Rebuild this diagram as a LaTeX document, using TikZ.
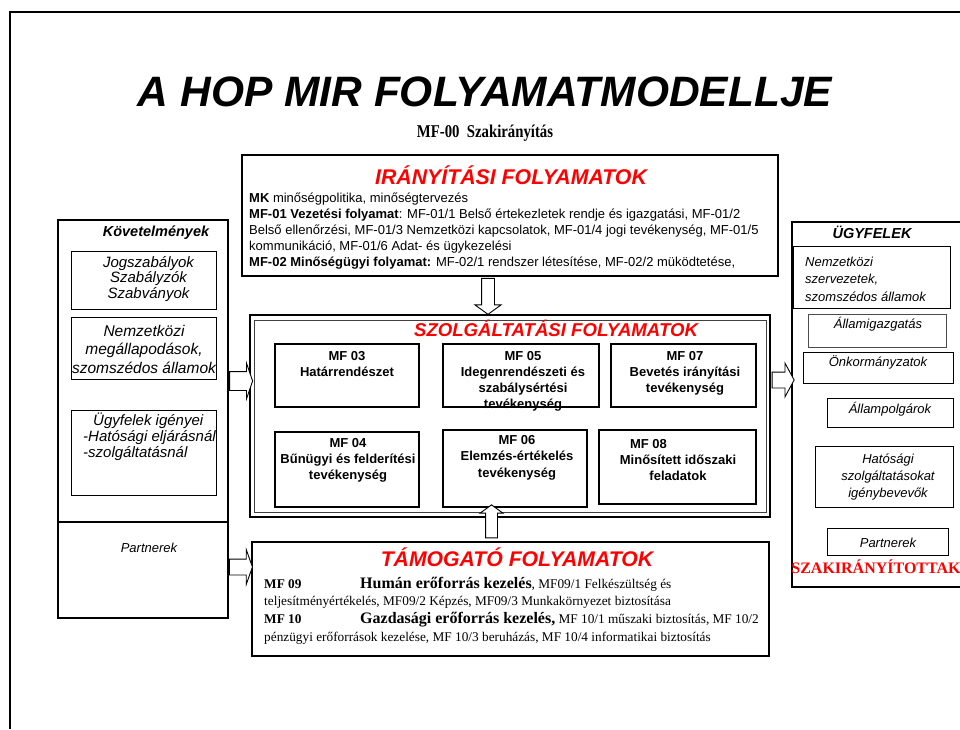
\documentclass[tikz,border=0pt]{standalone}
\usepackage{graphicx}
\usepackage{fontspec}
\setmainfont{Liberation Sans}
\newfontfamily\tnr{Liberation Serif}
\usetikzlibrary{positioning,shapes.arrows}

\begin{document}
\begin{tikzpicture}[x=1pt, y=-1pt,
    heavybox/.style={draw, line width=2.4pt, inner sep=0pt},
    sidebox/.style={draw, line width=1.9pt, inner sep=0pt},
    subbox/.style={draw, line width=0.9pt, inner sep=0pt},
    mfbox/.style={draw, line width=1.1pt, inner sep=0pt},
    redtitle/.style={text=red, inner sep=0pt, anchor=base,
      font=\fontsize{#1}{#1}\selectfont\bfseries\itshape},
    mftext/.style={inner sep=0pt, anchor=base, align=center,
      font=\fontsize{13}{16.3}\selectfont\bfseries},
    sidetxt/.style={inner sep=0pt, anchor=base, align=center,
      font=\fontsize{#1}{#1}\selectfont\itshape},
    blockarr/.style={single arrow, draw, fill=white, line width=0.9pt,
      inner xsep=0pt}
  ]
  \useasboundingbox (0,0) rectangle (960,729);

  % page frame
  \draw[line width=2pt] (10,729) -- (10,12) -- (960,12);

  % ===== Titles =====
  \node[inner sep=0pt, anchor=base, font=\fontsize{42.5}{42.5}\selectfont\bfseries\itshape]
    (title) at (485,106) {A HOP MIR FOLYAMATMODELLJE};
  \node[inner sep=0pt, anchor=base, font=\tnr\fontsize{18}{18}\selectfont\bfseries]
    (mf00) at (485,137) {\scalebox{0.82}[1]{MF-00\ \ Szakirányítás}};

  % ===== Irányítási folyamatok =====
  % (multi-line nodes: base = last line)
  \node[heavybox, minimum width=536pt, minimum height=121pt] (iran) at (510,215.5) {};
  \node[redtitle=21.3] (irant) at (511,184.5) {IRÁNYÍTÁSI FOLYAMATOK};
  \node[inner sep=0pt, anchor=base west, align=left, font=\fontsize{13}{16}\selectfont]
    (iranbody) at (249,266) {\textbf{MK} minőségpolitika, minőségtervezés\\
      \textbf{MF-01 Vezetési folyamat}: MF-01/1 Belső értekezletek rendje és igazgatási, MF-01/2\\
      Belső ellenőrzési, MF-01/3 Nemzetközi kapcsolatok, MF-01/4 jogi tevékenység, MF-01/5\\
      kommunikáció, MF-01/6 Adat- és ügykezelési\\
      \textbf{MF-02 Minőségügyi folyamat:} MF-02/1 rendszer létesítése, MF-02/2 müködtetése,};

  % ===== Követelmények (left) =====
  \node[sidebox, minimum width=170pt, minimum height=302pt] (kov) at (143,371) {};
  \node[sidebox, minimum width=170pt, minimum height=96pt] (kpart) at (143,570) {};
  \node[subbox, minimum width=145pt, minimum height=58pt] (jog) at (143.5,280) {};
  \node[subbox, minimum width=145pt, minimum height=62pt] (nemz) at (143.5,348) {};
  \node[subbox, minimum width=145pt, minimum height=85pt] (igeny) at (143.5,452.5) {};
  \node[inner sep=0pt, anchor=base, font=\fontsize{14.5}{14.5}\selectfont\bfseries\itshape]
    (kovt) at (156,236) {Követelmények};
  \node[sidetxt=15, font=\fontsize{15}{15.3}\selectfont\itshape] (jogt) at (148.5,298)
    {Jogszabályok\\Szabályzók\\Szabványok};
  \node[sidetxt=15.5, font=\fontsize{15.5}{18.5}\selectfont\itshape] (nemzt) at (144,373)
    {Nemzetközi\\megállapodások,\\szomszédos államok};
  \node[sidetxt=15, anchor=base west, align=left, font=\fontsize{15}{16}\selectfont\itshape]
    (igenyt) at (83,457) {\hspace*{10pt}Ügyfelek igényei\\-Hatósági eljárásnál\\-szolgáltatásnál};
  \node[sidetxt=13] (kpartt) at (149,552) {Partnerek};

  % ===== Ügyfelek (right) =====
  \node[sidebox, line width=1.7pt, minimum width=170pt, minimum height=365pt] (ugyf) at (877,404.5) {};
  \node[subbox, minimum width=157pt, minimum height=62pt] (unemz) at (871.5,277) {};
  \node[subbox, draw=black!70, minimum width=138pt, minimum height=33pt] (allam) at (877,330.5) {};
  \node[subbox, minimum width=150pt, minimum height=31pt] (onk) at (878,367.5) {};
  \node[subbox, minimum width=126pt, minimum height=29pt] (polg) at (890,412.5) {};
  \node[subbox, minimum width=138pt, minimum height=61pt] (hat) at (884,476.5) {};
  \node[subbox, minimum width=121pt, minimum height=27pt] (upart) at (887.5,541.5) {};
  \node[inner sep=0pt, anchor=base, font=\fontsize{14.5}{14.5}\selectfont\bfseries\itshape]
    (ugyft) at (872,238) {ÜGYFELEK};
  \node[sidetxt=13, anchor=base west, align=left, font=\fontsize{13}{17.5}\selectfont\itshape]
    (unemzt) at (805,301) {Nemzetközi\\szervezetek,\\szomszédos államok};
  \node[sidetxt=13] (allamt) at (878,328) {Államigazgatás};
  \node[sidetxt=13] (onkt) at (878,366) {Önkormányzatok};
  \node[sidetxt=13] (polgt) at (890,413) {Állampolgárok};
  \node[sidetxt=13, font=\fontsize{13}{17}\selectfont\itshape] (hatt) at (888,497)
    {Hatósági\\szolgáltatásokat\\igénybevevők};
  \node[sidetxt=13] (upartt) at (888,547) {Partnerek};
  \node[inner sep=0pt, anchor=base, text=red, font=\tnr\fontsize{16}{16}\selectfont\bfseries]
    (szakt) at (876,573) {SZAKIRÁNYÍTOTTAK};

  % ===== Szolgáltatási folyamatok =====
  \node[heavybox, minimum width=520pt, minimum height=202pt] (szolg) at (510,416) {};
  \node[draw=black!75, line width=0.9pt, minimum width=512pt, minimum height=192pt] (szolgin) at (510,416) {};
  \node[redtitle=18.6] (szolgt) at (556,336) {SZOLGÁLTATÁSI FOLYAMATOK};

  \node[mfbox, minimum width=144pt, minimum height=63pt] (mf03) at (347,375.5) {};
  \node[mfbox, minimum width=156pt, minimum height=63pt] (mf05) at (521,375.5) {};
  \node[mfbox, minimum width=145pt, minimum height=63pt] (mf07) at (683.5,375.5) {};
  \node[mfbox, minimum width=144pt, minimum height=75pt] (mf04) at (347,469.5) {};
  \node[mfbox, minimum width=144pt, minimum height=77pt] (mf06) at (515,468.5) {};
  \node[mfbox, minimum width=157pt, minimum height=74pt] (mf08) at (677.5,467) {};
  \node[mftext] (mf03t) at (347,376.3) {MF 03\\Határrendészet};
  \node[mftext] (mf05t) at (523,408.9) {MF 05\\Idegenrendészeti és\\szabálysértési\\tevékenység};
  \node[mftext] (mf07t) at (685,392.6) {MF 07\\Bevetés irányítási\\tevékenység};
  \node[mftext] (mf04t) at (348,479.6) {MF 04\\Bűnügyi és felderítési\\tevékenység};
  \node[mftext] (mf06t) at (517,477.1) {MF 06\\Elemzés-értékelés\\tevékenység};
  \node[mftext] (mf08t) at (678,480.6) {MF 08\hspace*{59pt}\\Minősített időszaki\\feladatok};

  % ===== Támogató folyamatok =====
  \node[heavybox, minimum width=517pt, minimum height=114pt] (tam) at (510.5,599) {};
  \node[redtitle=21.2] (tamt) at (517,566) {TÁMOGATÓ FOLYAMATOK};
  \node[inner sep=0pt, anchor=base west, align=left, font=\tnr\fontsize{13.3}{17.8}\selectfont]
    (tambody) at (264,641.5) {\makebox[96pt][l]{\textbf{MF 09}}{\fontsize{16}{16}\selectfont\bfseries Humán erőforrás kezelés}, MF09/1 Felkészültség és\\
      teljesítményértékelés, MF09/2 Képzés, MF09/3 Munkakörnyezet biztosítása\\
      \makebox[96pt][l]{\textbf{MF 10}}{\fontsize{16}{16}\selectfont\bfseries Gazdasági erőforrás kezelés,} MF 10/1 műszaki biztosítás, MF 10/2\\
      pénzügyi erőforrások kezelése, MF 10/3 beruházás, MF 10/4 informatikai biztosítás};

  % ===== Block arrows =====
  \node[blockarr, rotate=-90, minimum height=36pt, inner ysep=6pt,
        single arrow head extend=6.5pt, single arrow tip angle=108] (a1) at (488,294) {};
  \node[blockarr, rotate=90, minimum height=33pt, inner ysep=5.5pt,
        single arrow head extend=5.5pt, single arrow tip angle=108] (a2) at (491.5,523.5) {};
  \node[blockarr, minimum height=23pt, inner ysep=9pt,
        single arrow head extend=8.5pt, single arrow tip angle=142] (a3) at (239.5,381) {};
  \node[blockarr, minimum height=22pt, inner ysep=7.5pt,
        single arrow head extend=9pt, single arrow tip angle=123] (a4) at (781,380) {};
  \node[blockarr, minimum height=23pt, inner ysep=7.5pt,
        single arrow head extend=9.5pt, single arrow tip angle=141] (a5) at (239.5,567) {};

\end{tikzpicture}
\end{document}
